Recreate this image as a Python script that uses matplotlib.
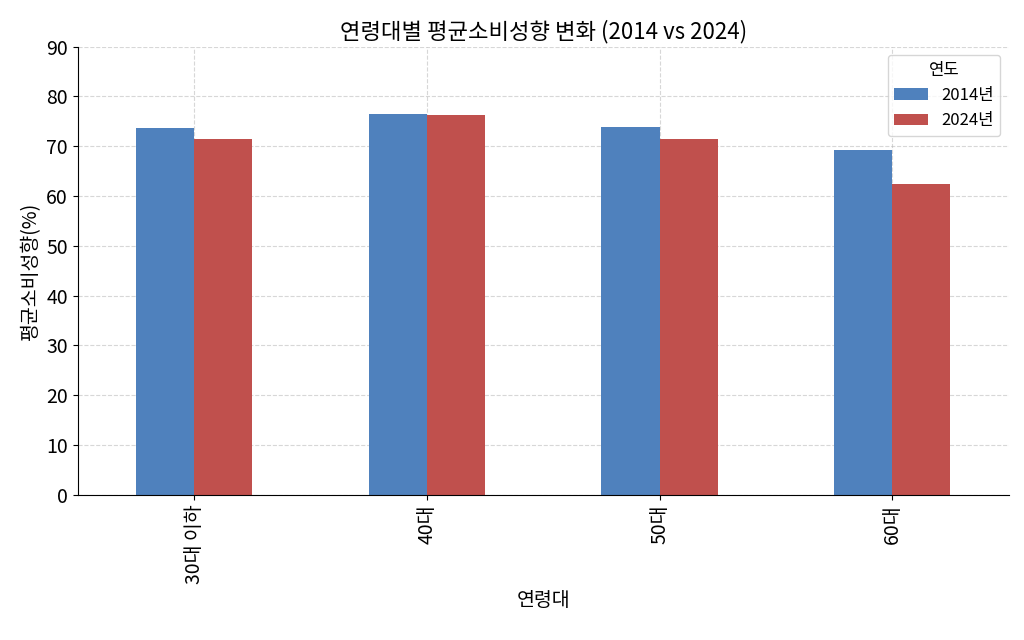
import matplotlib
matplotlib.use("Agg")
import matplotlib.pyplot as plt
import numpy as np

plt.rcParams['font.family'] = ['Noto Sans CJK KR', 'DejaVu Sans']

ages = ['30대 이하', '40대', '50대', '60대']
v2014 = [73.7, 76.4, 73.9, 69.3]
v2024 = [71.5, 76.2, 71.4, 62.4]
series = ['2014년', '2024년']

fig, ax = plt.subplots(figsize=(10.24, 6.4), dpi=100)
x = np.arange(len(ages))
w = 0.25
ax.bar(x - w / 2, v2014, w, color='#4f81bd', label=series[0])
ax.bar(x + w / 2, v2024, w, color='#c0504d', label=series[1])

ax.set_xticks(x)
ax.set_xticklabels(ages, rotation=90, fontsize=14)
ax.set_xlim(-0.5, len(ages) - 0.5)
ax.set_ylim(0, 90)
ax.set_yticks(range(0, 91, 10))
ax.tick_params(axis='y', labelsize=14)
ax.grid(True, linestyle='--', alpha=0.5)
ax.set_axisbelow(True)
for s in ['top', 'right']:
    ax.spines[s].set_visible(False)

ax.set_title('연령대별 평균소비성향 변화 (2014 vs 2024)', fontsize=16)
ax.set_xlabel('연령대', fontsize=14)
ax.set_ylabel('평균소비성향(%)', fontsize=14)
ax.legend(title='연도', fontsize=12, title_fontsize=12, loc='upper right')

fig.subplots_adjust(left=0.076, right=0.985, top=0.927, bottom=0.227)
fig.savefig('out.png')
